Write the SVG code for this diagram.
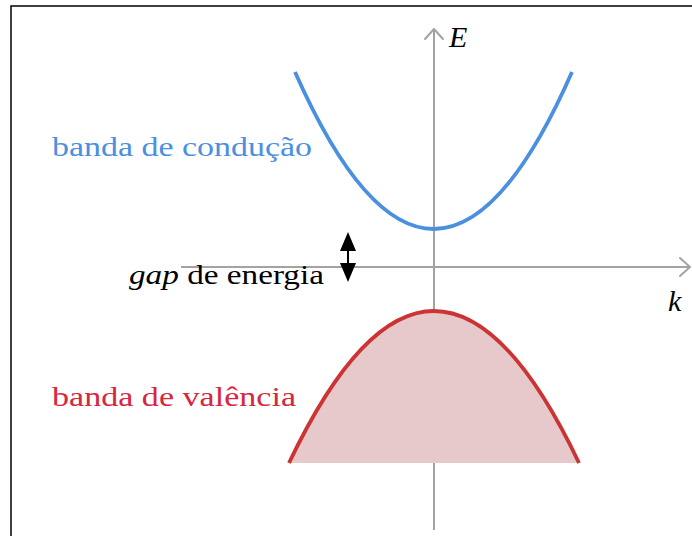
<svg xmlns="http://www.w3.org/2000/svg" width="692" height="536" viewBox="0 0 692 536">
<style>
.axis{stroke:#a3a3a3;stroke-width:2;fill:none}
.lbl{font-family:"Liberation Serif","DejaVu Serif",serif;font-size:27px}
.var{font-family:"Liberation Serif","DejaVu Serif",serif;font-size:30px;font-style:italic}
</style>
<rect width="692" height="536" fill="#fff"/>
<path d="M11,536 V6 H692" fill="none" stroke="#000" stroke-width="1.5"/>
<g id="connectors">
<g id="axes">
<line class="axis" x1="181" y1="267" x2="690" y2="267"/>
<polyline class="axis" points="680,258 690,267 680,276" stroke-linecap="round" stroke-linejoin="round"/>
<line class="axis" x1="434" y1="530" x2="434" y2="29"/>
<polyline class="axis" points="425,39 434,29 443,39" stroke-linecap="round" stroke-linejoin="round"/>
</g>
<g id="gap-arrow">
<line x1="348" y1="246" x2="348" y2="268" stroke="#000" stroke-width="2"/>
<polygon points="348,232 340,251 356,251" fill="#000"/>
<polygon points="348,282 340,263 356,263" fill="#000"/>
</g>
</g>
<g id="conduction">
<path d="M295,72 Q434,386 572,72" fill="none" stroke="#4a8fe0" stroke-width="3.8"/>
<text class="lbl" x="52" y="156" fill="#4a8fe0" textLength="260" lengthAdjust="spacingAndGlyphs">banda de condução</text>
</g>
<g id="valence">
<path d="M289,463 Q434,159 579,463 Z" fill="#e8c9cb" stroke="none"/>
<path d="M289,463 Q434,159 579,463" fill="none" stroke="#cc3333" stroke-width="3.8"/>
<text class="lbl" x="52" y="406" fill="#d7263d" textLength="244" lengthAdjust="spacingAndGlyphs">banda de valência</text>
</g>
<g id="gap">
<text class="lbl" x="129" y="284" fill="#000" textLength="195" lengthAdjust="spacingAndGlyphs"><tspan font-style="italic">gap</tspan> de energia</text>
</g>
<g id="labels">
<text class="var" x="449" y="47" fill="#000">E</text>
<text class="var" x="668" y="311" fill="#000">k</text>
</g>
</svg>
